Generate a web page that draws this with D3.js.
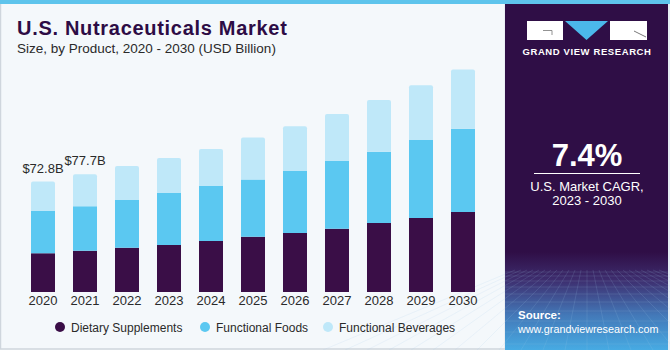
<!DOCTYPE html>
<html><head><meta charset="utf-8">
<script src="https://cdn.jsdelivr.net/npm/d3@7"></script>
<style>body{margin:0;padding:0;background:#fff}svg{display:block}</style>
</head><body>
<svg id="c" width="670" height="350"></svg>
<script>
const years = ["2020","2021","2022","2023","2024","2025","2026","2027","2028","2029","2030"];
const dietarySupplements = [25.5,27.2,29.2,31.0,33.6,36.5,38.9,41.7,45.5,48.8,52.7];
const functionalFoods    = [27.9,29.4,31.4,34.3,36.3,37.6,40.9,44.6,47.0,51.4,54.9];
const functionalBeverages= [19.4,21.1,22.4,23.1,24.4,27.7,29.5,31.0,34.1,36.1,39.1];
const seriesNames = ["Dietary Supplements","Functional Foods","Functional Beverages"];
const seriesColors = ["#3a0e47","#5bc8f1","#bfe8f9"];
const valueLabels = [{year:"2020", text:"$72.8B"},{year:"2021", text:"$77.7B"}];

const svg = d3.select("#c");
const FONT = "'Liberation Sans', Arial, sans-serif";

// backgrounds
svg.append("rect").attr("x",0).attr("y",0).attr("width",670).attr("height",350).attr("fill","#f4f8fb");
svg.append("rect").attr("x",0.5).attr("y",0).attr("width",505).attr("height",349).attr("fill","#f4f8fb").attr("stroke","#cfd6dd").attr("stroke-width",1.5);
const defs = svg.append("defs");
const g1 = defs.append("linearGradient").attr("id","pg").attr("x1",0).attr("y1",0).attr("x2",0).attr("y2",1);
g1.append("stop").attr("offset","0").attr("stop-color","#2f0e46");
g1.append("stop").attr("offset","0.72").attr("stop-color","#2f0e46");
g1.append("stop").attr("offset","0.80").attr("stop-color","#3d2d6e");
g1.append("stop").attr("offset","0.9").attr("stop-color","#4378b8");
g1.append("stop").attr("offset","1").attr("stop-color","#47abe3");
svg.append("rect").attr("x",505).attr("y",0).attr("width",163).attr("height",350).attr("fill","url(#pg)");
svg.append("rect").attr("x",668).attr("y",0).attr("width",2).attr("height",350).attr("fill","#e6eef4");
// grid in bottom panel
const grid = svg.append("g").attr("stroke","#9fc6ec").attr("stroke-opacity",0.25).attr("stroke-width",0.6);
const hy = [272,276,281,287,294,302,311,321,332,344];
hy.forEach(y=>grid.append("line").attr("x1",505).attr("x2",668).attr("y1",y).attr("y2",y));
for(let i=-12;i<=12;i++){
  grid.append("line").attr("x1",587+i*6).attr("y1",270).attr("x2",587+i*22).attr("y2",350);
}
// top stripe
svg.append("rect").attr("x",0).attr("y",0).attr("width",670).attr("height",4).attr("fill","#5ec4ec");

// title
svg.append("text").attr("x",17).attr("y",35).attr("font-family",FONT).attr("font-weight","900").attr("font-size",20).attr("letter-spacing",0.7).attr("fill","#2d0c45").text("U.S. Nutraceuticals Market");
svg.append("text").attr("x",17).attr("y",53).attr("font-family",FONT).attr("font-size",13.5).attr("fill","#2a2a2a").text("Size, by Product, 2020 - 2030 (USD Billion)");

// scales
const x = d3.scaleBand().domain(years).range([22,484]).paddingInner(18/42).paddingOuter(0.2143);
const y = d3.scaleLinear().domain([0,150]).range([292, 292-150*1.517]);

const rows = years.map((yr,i)=>({year:yr, "Dietary Supplements":dietarySupplements[i], "Functional Foods":functionalFoods[i], "Functional Beverages":functionalBeverages[i]}));
const stack = d3.stack().keys(seriesNames)(rows);

const r = 2;
function topRounded(x0,y0,w,h){
  return `M${x0},${y0+h}V${y0+r}Q${x0},${y0} ${x0+r},${y0}H${x0+w-r}Q${x0+w},${y0} ${x0+w},${y0+r}V${y0+h}Z`;
}
stack.forEach((s,si)=>{
  svg.append("g").attr("fill",seriesColors[si]).selectAll("path").data(s).join("path")
    .attr("d",d=>{
      const x0=x(d.data.year), y0=y(d[1]), h=y(d[0])-y(d[1]), w=x.bandwidth();
      return si===2 ? topRounded(x0,y0,w,h) : `M${x0},${y0}h${w}v${h}h${-w}Z`;
    });
});

// axis
const ax = svg.append("g").attr("transform","translate(0,293)").call(d3.axisBottom(x).tickSize(0).tickPadding(3));
ax.select(".domain").remove();
ax.selectAll("text").attr("font-family",FONT).attr("font-size",13).attr("fill","#2a2a2a");

// value labels
valueLabels.forEach(v=>{
  const i = years.indexOf(v.year);
  const tot = dietarySupplements[i]+functionalFoods[i]+functionalBeverages[i];
  svg.append("text").attr("x",x(v.year)+x.bandwidth()/2).attr("y",y(tot)-9).attr("text-anchor","middle")
    .attr("font-family",FONT).attr("font-size",13).attr("fill","#2a2a2a").text(v.text);
});

// legend
const legX = [60,205,328];
seriesNames.forEach((n,i)=>{
  svg.append("circle").attr("cx",legX[i]).attr("cy",327).attr("r",5).attr("fill",seriesColors[i]);
  svg.append("text").attr("x",legX[i]+11).attr("y",331.5).attr("font-family",FONT).attr("font-size",12).attr("fill","#2a2a2a").text(n);
});

// logo
svg.append("rect").attr("x",527).attr("y",21).attr("width",36).attr("height",19).attr("fill","#ffffff");
svg.append("path").attr("d","M543,30.5H552V35").attr("fill","none").attr("stroke","#777").attr("stroke-width",0.8);
svg.append("path").attr("d","M565,21H608L586.5,40Z").attr("fill","#4bb8ea");
svg.append("rect").attr("x",610).attr("y",21).attr("width",37).attr("height",19).attr("fill","#ffffff");
svg.append("path").attr("d","M634,31L646,37").attr("fill","none").attr("stroke","#555").attr("stroke-width",0.8);
svg.append("text").attr("x",587).attr("y",55).attr("text-anchor","middle").attr("font-family",FONT).attr("font-weight","bold").attr("font-size",9.5).attr("letter-spacing",0.6).attr("fill","#ffffff").text("GRAND VIEW RESEARCH");

// CAGR
svg.append("text").attr("x",587).attr("y",166).attr("text-anchor","middle").attr("font-family",FONT).attr("font-weight","bold").attr("font-size",31).attr("fill","#ffffff").text("7.4%");
svg.append("line").attr("x1",534).attr("x2",640).attr("y1",173.5).attr("y2",173.5).attr("stroke","#ffffff").attr("stroke-width",1);
svg.append("text").attr("x",587).attr("y",191).attr("text-anchor","middle").attr("font-family",FONT).attr("font-size",13).attr("fill","#ffffff").text("U.S. Market CAGR,");
svg.append("text").attr("x",587).attr("y",205).attr("text-anchor","middle").attr("font-family",FONT).attr("font-size",13).attr("fill","#ffffff").text("2023 - 2030");

// source
svg.append("text").attr("x",518).attr("y",319).attr("font-family",FONT).attr("font-weight","bold").attr("font-size",11.5).attr("fill","#ffffff").text("Source:");
svg.append("text").attr("x",518).attr("y",333).attr("font-family",FONT).attr("font-size",10.8).attr("fill","#ffffff").text("www.grandviewresearch.com");
</script>
</body></html>
